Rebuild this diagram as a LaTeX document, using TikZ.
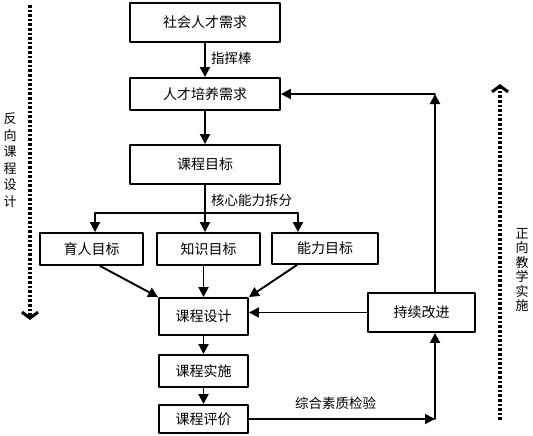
\documentclass[tikz,border=0pt]{standalone}
\usepackage{fontspec}
\setmainfont{Noto Sans CJK SC}
\usetikzlibrary{arrows.meta}
\begin{document}
\begin{tikzpicture}[x=1pt,y=-1pt,line cap=round,line join=round,
  box/.style={draw,line width=1.9pt,inner sep=0pt,font=\fontsize{14}{16}\selectfont},
  lbl/.style={inner sep=0pt,font=\fontsize{13.5}{16}\selectfont},
  side/.style={inner sep=0pt,align=center},
  ln/.style={line width=1.9pt},
  arr/.style={line width=1.9pt,-{Triangle[length=10pt,width=10pt]}},
  dots/.style={line width=3.4pt,line cap=butt,dash pattern=on 2.6pt off 2pt,
    -{Straight Barb[length=6pt,width=16pt,line width=3pt]}}]
  \useasboundingbox (0,0) rectangle (533,436);
  \node[box,minimum width=150pt,minimum height=39pt] (soc) at (205,22.5) {社会人才需求};
  \node[box,minimum width=150pt,minimum height=32pt] (train) at (205,94) {人才培养需求};
  \node[box,minimum width=150pt,minimum height=39pt] (goal) at (205,164.5) {课程目标};
  \node[box,minimum width=103pt,minimum height=32pt] (yuren) at (91.5,249) {育人目标};
  \node[box,minimum width=103pt,minimum height=32pt] (zhishi) at (208.5,249) {知识目标};
  \node[box,minimum width=106pt,minimum height=31pt] (nengli) at (325,248.5) {能力目标};
  \node[box,minimum width=89pt,minimum height=37pt] (design) at (203.5,316.5) {课程设计};
  \node[box,minimum width=89pt,minimum height=32pt] (impl) at (203.5,371) {课程实施};
  \node[box,minimum width=89pt,minimum height=28pt] (eval) at (203.5,419) {课程评价};
  \node[box,minimum width=107pt,minimum height=39pt] (improve) at (421.5,312.5) {持续改进};
  \node[lbl,anchor=west] (zhb) at (211,58) {指挥棒};
  \node[lbl,anchor=west] (hxnl) at (211,200) {核心能力拆分};
  \node[lbl,anchor=west] (zhsz) at (295,403) {综合素质检验};
  \node[side,font=\fontsize{13}{16.5}\selectfont] (ltxt) at (10,160) {反\\向\\课\\程\\设\\计};
  \node[side,font=\fontsize{13}{14.5}\selectfont] (rtxt) at (522,270) {正\\向\\教\\学\\实\\施};
  \draw[arr] (soc) -- (train);
  \draw[arr] (train) -- (goal);
  \coordinate (forkl) at (95,213);
  \coordinate (forkr) at (298,213);
  \draw[ln] (goal.south) -- (goal.south |- forkl);
  \draw[ln] (forkl) -- (forkr);
  \draw[arr] (forkl) -- (forkl |- yuren.north);
  \draw[arr] (goal.south |- forkl) -- (goal.south |- zhishi.north);
  \draw[arr] (forkr) -- (forkr |- nengli.north);
  \draw[arr] ([xshift=8.5pt]yuren.south) -- (design.north west);
  \draw[arr] (design.north |- zhishi.south) -- (design.north);
  \draw[arr] ([xshift=-28pt]nengli.south) -- (design.north east);
  \draw[arr] (design) -- (impl);
  \draw[arr] (impl) -- (eval);
  \coordinate (cbot) at (435,419);
  \coordinate (ctop) at (435,94);
  \draw[arr] (eval.east) -- (cbot);
  \draw[arr] (cbot) -- (cbot |- improve.south);
  \draw[arr] (cbot |- improve.north) -- (ctop);
  \draw[arr] (ctop) -- (train.east);
  \draw[arr] (improve.west) -- (design.east |- improve.west);
  \coordinate (lstart) at (30,5);
  \coordinate (lend) at (30,320);
  \draw[dots] (lstart) -- (lend);
  \coordinate (rstart) at (500,420);
  \coordinate (rend) at (500,84);
  \draw[dots] (rstart) -- (rend);
\end{tikzpicture}
\end{document}
